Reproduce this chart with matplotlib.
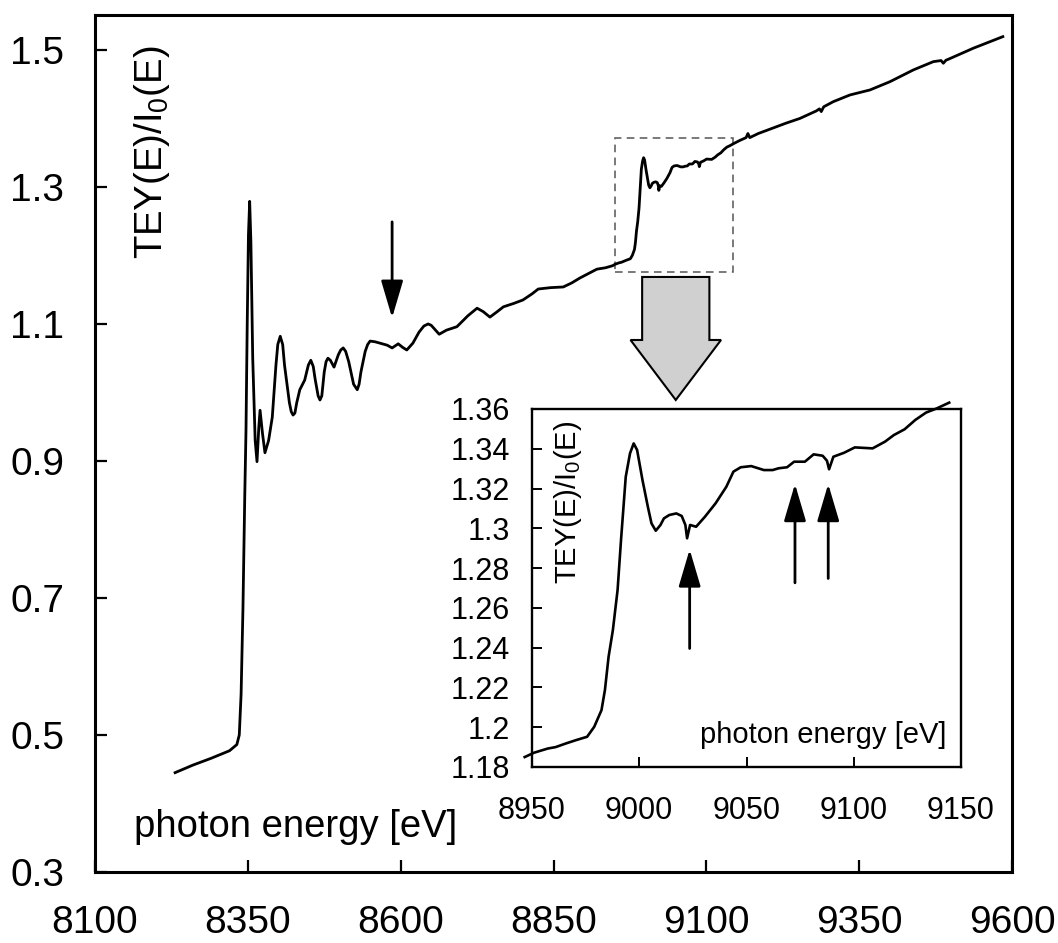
import numpy as np
import matplotlib
matplotlib.use('Agg')
import matplotlib.pyplot as plt
from matplotlib.patches import Polygon, Rectangle
from matplotlib.ticker import FuncFormatter, FixedLocator

plt.rcParams['font.family'] = ['Liberation Sans', 'DejaVu Sans']
plt.rcParams['mathtext.default'] = 'regular'

# ---------------- data ----------------
energy = [8231, 8260, 8290, 8320, 8332, 8336, 8339, 8342, 8345, 8347, 8349, 8351,
          8353, 8355, 8358, 8362, 8365, 8368, 8370, 8374, 8378, 8384, 8390, 8396,
          8399, 8403, 8407, 8410, 8418, 8421, 8424, 8427, 8430, 8435, 8443, 8449,
          8453, 8457, 8460, 8465, 8468, 8471, 8475, 8478, 8481, 8485, 8491, 8498,
          8502, 8506, 8510, 8515, 8523, 8526, 8529, 8532, 8535, 8542, 8546, 8550,
          8558, 8566, 8578, 8586, 8596, 8603, 8610, 8620, 8630, 8638, 8645, 8650,
          8655, 8663, 8675, 8692, 8710, 8725, 8735, 8746, 8758, 8768, 8785, 8800,
          8815, 8825, 8845, 8866, 8880, 8893, 8908, 8921, 8935,
          8946.6, 8951.0, 8957.4, 8961.0, 8965.7, 8970.5, 8975.7, 8979.0, 8982.4,
          8984.0, 8985.7, 8987.7, 8989.9, 8991.5, 8993.7, 8995.7, 8997.4, 8999.0,
          9001.5, 9004.0, 9005.7, 9007.7, 9009.9, 9011.5, 9014.0, 9017.3, 9019.8,
          9021.5, 9022.3, 9023.7, 9026.5, 9030.6, 9035.6, 9040.6, 9043.9, 9047.3,
          9052.2, 9058.1, 9062.2, 9065.0, 9068.9, 9072.2, 9077.2, 9081.3, 9085.5,
          9087.5, 9088.5, 9090.5, 9095.5, 9100.5, 9108.8, 9114.6, 9118.7, 9123.7,
          9128.7, 9133.7, 9138.7, 9144.5,
          9155, 9165, 9168, 9171, 9185, 9200, 9215, 9230, 9253, 9280, 9285, 9288,
          9292, 9307.7, 9335, 9367.7, 9400.5, 9438.6, 9471.3, 9484, 9487.7, 9492,
          9495.9, 9536.7, 9564, 9585]
tey = [0.445, 0.456, 0.466, 0.477, 0.486, 0.500, 0.560, 0.684, 0.850, 0.945, 1.100, 1.230,
       1.279, 1.220, 1.050, 0.930, 0.899, 0.950, 0.974, 0.940, 0.912, 0.930, 0.964, 1.040,
       1.070, 1.082, 1.070, 1.040, 0.985, 0.972, 0.967, 0.970, 0.985, 1.004, 1.018, 1.040,
       1.047, 1.038, 1.020, 0.995, 0.989, 0.995, 1.030, 1.045, 1.050, 1.047, 1.037, 1.055,
       1.062, 1.065, 1.060, 1.045, 1.012, 1.008, 1.004, 1.012, 1.030, 1.060, 1.070, 1.075,
       1.074, 1.072, 1.069, 1.065, 1.071, 1.066, 1.062, 1.072, 1.088, 1.097, 1.100, 1.098,
       1.093, 1.085, 1.091, 1.096, 1.112, 1.123, 1.118, 1.110, 1.118, 1.125, 1.130, 1.135,
       1.144, 1.151, 1.153, 1.154, 1.160, 1.167, 1.174, 1.180, 1.182,
       1.1850, 1.1872, 1.1893, 1.1900, 1.1918, 1.1935, 1.1952, 1.2002, 1.2086,
       1.2187, 1.2354, 1.2488, 1.2690, 1.2941, 1.3259, 1.3377, 1.3427, 1.3394,
       1.3243, 1.3109, 1.3025, 1.2988, 1.3017, 1.3050, 1.3067, 1.3075, 1.3062,
       1.3017, 1.2950, 1.3017, 1.3008, 1.3058, 1.3126, 1.3209, 1.3285, 1.3307,
       1.3313, 1.3293, 1.3293, 1.3302, 1.3307, 1.3335, 1.3335, 1.3372, 1.3365,
       1.3340, 1.3297, 1.3360, 1.3380, 1.3407, 1.3402, 1.3436, 1.3469, 1.3498,
       1.3545, 1.3582, 1.3603, 1.3632,
       1.368, 1.372, 1.378, 1.372, 1.378, 1.383, 1.388, 1.393, 1.400, 1.411, 1.414, 1.410,
       1.417, 1.4245, 1.4343, 1.4416, 1.4537, 1.4708, 1.4829, 1.4845, 1.4806, 1.4850,
       1.4864, 1.5025, 1.5121, 1.5194]

main_xticks = [8100, 8350, 8600, 8850, 9100, 9350, 9600]
main_yticks = [0.3, 0.5, 0.7, 0.9, 1.1, 1.3, 1.5]
inset_xticks = [8950, 9000, 9050, 9100, 9150]
inset_yticks = [1.18, 1.20, 1.22, 1.24, 1.26, 1.28, 1.30, 1.32, 1.34, 1.36]
inset_range = (8946, 9145)

main_label_x = "photon energy [eV]"
main_label_y = "TEY(E)/I$_0$(E)"

# annotation arrows
main_arrow_x = 8586
main_arrow_y = (1.249, 1.109)  # tail, tip
inset_arrow_x = [9023.5, 9072.6, 9088.1]
inset_arrow_tail = [1.2396, 1.2726, 1.2748]
inset_arrow_tip = [1.2894, 1.3223, 1.3223]

# ---------------- figure ----------------
fig = plt.figure(figsize=(10.58, 9.43), dpi=100)
ax = fig.add_axes([95 / 1058, (943 - 872) / 943, 917 / 1058, 857 / 943])

ax.plot(energy, tey, color='black', lw=2.0, solid_joinstyle='round')
ax.set_xlim(8100, 9600)
ax.set_ylim(0.3, 1.551)
ax.xaxis.set_major_locator(FixedLocator(main_xticks))
ax.yaxis.set_major_locator(FixedLocator(main_yticks))
fmt = FuncFormatter(lambda v, p: '%g' % v)
ax.xaxis.set_major_formatter(fmt)
ax.yaxis.set_major_formatter(fmt)
ax.tick_params(direction='in', length=8.6, width=1.6, labelsize=28)
ax.tick_params(axis='x', pad=24)
ax.tick_params(axis='y', pad=22)
for s in ax.spines.values():
    s.set_linewidth(2.2)

ax.text(0.062, 0.840, main_label_y, rotation=90, transform=ax.transAxes,
        ha='center', va='center', fontsize=27.5)
ax.text(0.219, 0.0525, main_label_x, transform=ax.transAxes,
        ha='center', va='center', fontsize=27.5)

# dashed zoom box
ax.add_patch(Rectangle((8950.6, 1.176), 9143.6 - 8950.6, 1.3715 - 1.176,
                       fill=False, ls=(0, (5, 3.5)), lw=1.1, edgecolor='#555555'))

# big grey arrow
cx, sh, hh = 9050, 55, 74
top, hb, tip = 1.1686, 1.0766, 0.989
ax.add_patch(Polygon([(cx - sh, top), (cx + sh, top), (cx + sh, hb), (cx + hh, hb),
                      (cx, tip), (cx - hh, hb), (cx - sh, hb)], closed=True,
                     facecolor='#d0d0d0', edgecolor='black', lw=1.5, zorder=3))

arrow_style = dict(arrowstyle='-|>,head_length=2.3,head_width=0.68', mutation_scale=10,
                   lw=2.0, color='black', shrinkA=0, shrinkB=0)
ax.annotate('', xy=(main_arrow_x, main_arrow_y[1]), xytext=(main_arrow_x, main_arrow_y[0]),
            arrowprops=arrow_style)

# ---------------- inset ----------------
ins = fig.add_axes([532 / 1058, (943 - 767) / 943, 429 / 1058, 358 / 943])
ins.set_facecolor('white')
e = np.array(energy)
t = np.array(tey)
m = (e >= inset_range[0]) & (e <= inset_range[1])
ins.plot(e[m], t[m], color='black', lw=1.9, clip_on=False, solid_joinstyle='round')
ins.set_xlim(8950, 9150)
ins.set_ylim(1.18, 1.36)
ins.xaxis.set_major_locator(FixedLocator(inset_xticks))
ins.yaxis.set_major_locator(FixedLocator(inset_yticks))
ins.xaxis.set_major_formatter(fmt)
ins.yaxis.set_major_formatter(fmt)
ins.tick_params(direction='in', length=7.5, width=1.4, labelsize=22)
ins.tick_params(axis='x', pad=21)
ins.tick_params(axis='y', pad=16)
for s in ins.spines.values():
    s.set_linewidth(1.7)

ins.text(0.083, 0.74, main_label_y, rotation=90, transform=ins.transAxes,
         ha='center', va='center', fontsize=21)
ins.text(0.678, 0.089, main_label_x, transform=ins.transAxes,
         ha='center', va='center', fontsize=21)

for xa, ta, tp in zip(inset_arrow_x, inset_arrow_tail, inset_arrow_tip):
    ins.annotate('', xy=(xa, tp), xytext=(xa, ta), arrowprops=arrow_style)

fig.savefig('out.png', dpi=100)
